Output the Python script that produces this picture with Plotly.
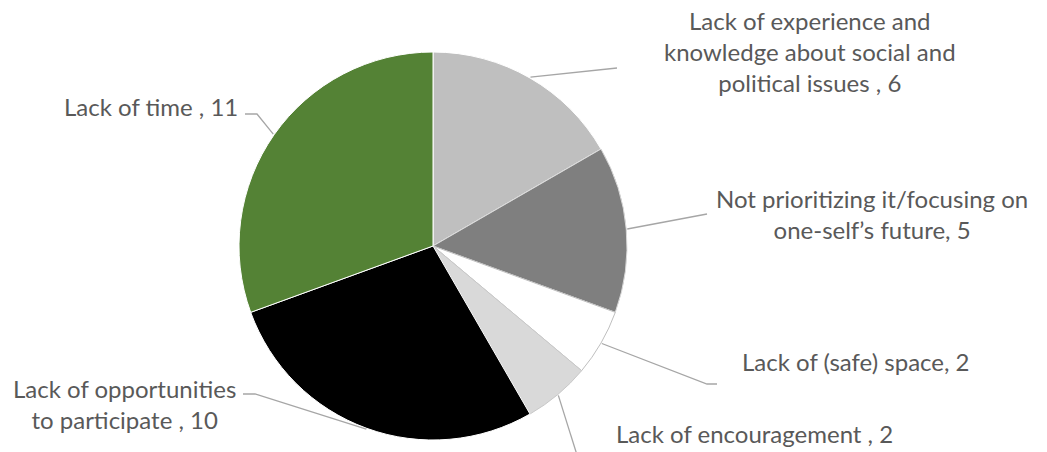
import math
import plotly.graph_objects as go

categories = [
    "Lack of experience and<br>knowledge about social and<br>political issues",
    "Not prioritizing it/focusing on<br>one-self’s future",
    "Lack of (safe) space",
    "Lack of encouragement",
    "Lack of opportunities<br>to participate",
    "Lack of time",
]
label_sep = [" , ", ", ", ", ", " , ", " , ", " , "]
values = [6, 5, 2, 2, 10, 11]
colors = ["#bfbfbf", "#7f7f7f", "#ffffff", "#d9d9d9", "#000000", "#548235"]
edge_colors = ["#ffffff", "#d9d9d9", "#bfbfbf", "#c8c8c8", "#ffffff", "#ffffff"]

W, H = 1047, 452
CX, CY, R = 433, 246, 194

# label layout (pixel coords): elbow points after the slice edge, text anchor
label_layout = [
    dict(path=[(617, 68)], tx=810, ty=52, xa="center"),
    dict(path=[(707, 214)], tx=872, ty=214, xa="center"),
    dict(path=[(707, 384), (717, 384)], tx=740, ty=361, xa="left"),
    dict(path=[(577, 455)], tx=614, ty=433, xa="left"),
    dict(path=[(255, 394), (243, 394)], tx=124, ty=404, xa="center"),
    dict(path=[(257, 114), (245, 114)], tx=240, ty=107, xa="right"),
]

def px(x):
    return x / W

def py(y):
    return 1 - y / H

fig = go.Figure(go.Pie(
    labels=categories,
    values=values,
    sort=False,
    direction="clockwise",
    rotation=0,
    marker=dict(colors=colors, line=dict(color=edge_colors, width=1)),
    textinfo="none",
    hoverinfo="label+value",
    showlegend=False,
    domain=dict(x=[px(CX - R), px(CX + R)], y=[py(CY + R), py(CY - R)]),
))

total = sum(values)
cum = 0
shapes = []
annotations = []
for cat, sep, v, lay in zip(categories, label_sep, values, label_layout):
    mid = (cum + v / 2) / total * 2 * math.pi
    cum += v
    sx = CX + R * 1.005 * math.sin(mid)
    sy = CY - R * 1.005 * math.cos(mid)
    pts = [(sx, sy)] + lay["path"]
    path = "M " + " L ".join(f"{px(x)},{py(y)}" for x, y in pts)
    shapes.append(dict(type="path", path=path, xref="paper", yref="paper",
                       line=dict(color="#a6a6a6", width=1.3)))
    annotations.append(dict(
        text=f"{cat}{sep}{v}", x=px(lay["tx"]), y=py(lay["ty"]),
        xref="paper", yref="paper", xanchor=lay["xa"], yanchor="middle",
        align="center", showarrow=False,
        font=dict(family="Lato, Carlito, sans-serif", size=24, color="#595959"),
    ))

fig.update_layout(
    width=W, height=H,
    margin=dict(l=0, r=0, t=0, b=0),
    paper_bgcolor="white", plot_bgcolor="white",
    shapes=shapes, annotations=annotations,
)

fig.write_html("out.html", config={"displayModeBar": False},
               post_script="document.body.style.margin='0';")
